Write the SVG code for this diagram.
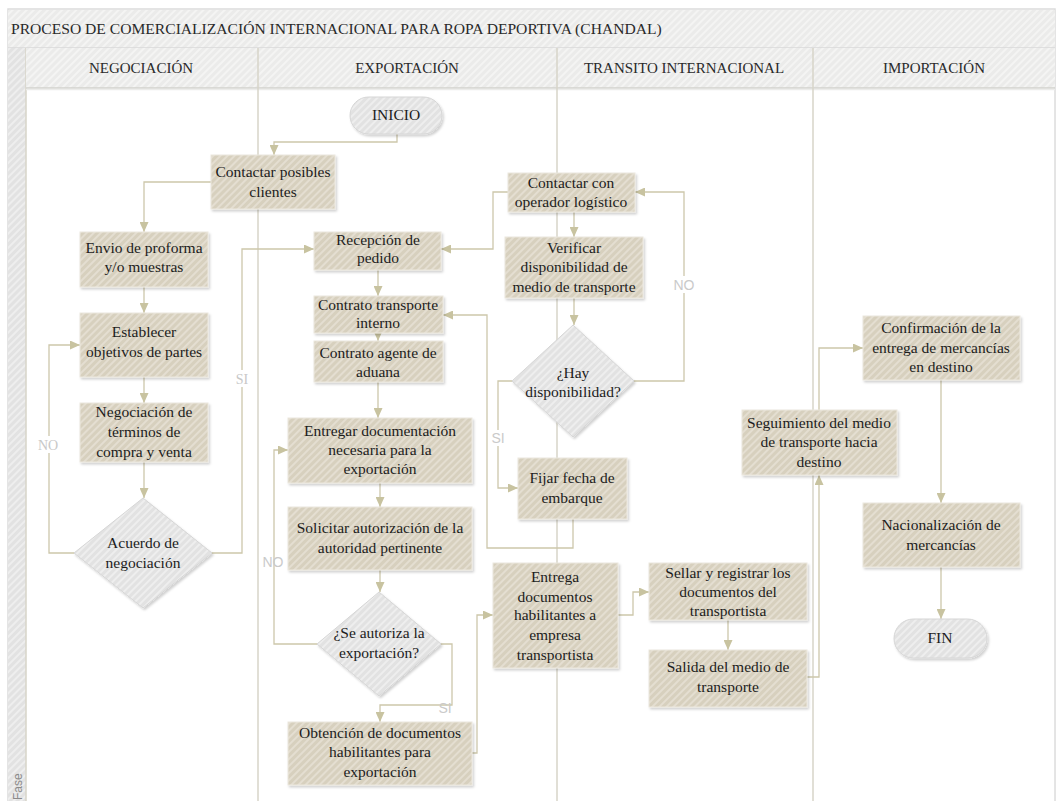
<svg xmlns="http://www.w3.org/2000/svg" width="1059" height="801" viewBox="0 0 1059 801">
<defs>
  <pattern id="hTan" width="5" height="5" patternUnits="userSpaceOnUse" patternTransform="rotate(45)">
    <rect width="5" height="5" fill="#d7d0be"/>
    <rect width="2" height="5" fill="#e4ded1"/>
  </pattern>
  <pattern id="hGrey" width="5" height="5" patternUnits="userSpaceOnUse" patternTransform="rotate(45)">
    <rect width="5" height="5" fill="#e2e2e2"/>
    <rect width="2" height="5" fill="#eeeeee"/>
  </pattern>
  <pattern id="hBand" width="5" height="5" patternUnits="userSpaceOnUse" patternTransform="rotate(45)">
    <rect width="5" height="5" fill="#ebebea"/>
    <rect width="2" height="5" fill="#f4f4f3"/>
  </pattern>
  <marker id="arr" markerUnits="userSpaceOnUse" markerWidth="10" markerHeight="9" refX="10" refY="4.5" orient="auto">
    <path d="M0,0 L10,4.5 L0,9 z" fill="#c8c3a0"/>
  </marker>
  <filter id="sh" x="-10%" y="-10%" width="125%" height="130%">
    <feDropShadow dx="1.5" dy="2" stdDeviation="1.2" flood-color="#000" flood-opacity="0.18"/>
  </filter>
</defs>
<style>
  .box{fill:url(#hTan);stroke:#ece8de;stroke-width:1;filter:url(#sh)}
  .dec{fill:url(#hGrey);stroke:#d6d6d6;stroke-width:1;filter:url(#sh)}
  .t{font-family:"Liberation Serif","Times New Roman",serif;font-size:15.5px;fill:#1c1c1c;text-anchor:middle}
  .hd{font-family:"Liberation Serif","Times New Roman",serif;font-size:15px;fill:#2a2a2a;text-anchor:middle}
  .conn{fill:none;stroke:#cdc7ab;stroke-width:1.3}
  .lane{stroke:#d7d4c9;stroke-width:1.5}
  .lbl{font-family:"Liberation Sans",Arial,sans-serif;font-size:14px;fill:#cacaca;text-anchor:middle}
  .lbls{font-family:"Liberation Serif","Times New Roman",serif;font-size:14px;fill:#c8c8c8;text-anchor:middle}
</style>
<rect x="0" y="0" width="1059" height="801" fill="#ffffff"/>

<g id="frame">
  <rect x="8" y="9" width="1047" height="795" fill="#ffffff" stroke="#dcdcdc" stroke-width="1.5"/>
  <rect x="8" y="10" width="1047" height="38" fill="url(#hBand)"/>
  <line x1="8" y1="48" x2="1055" y2="48" stroke="#d8d8d8" stroke-width="1.5"/>
  <text x="11" y="34" font-family="Liberation Serif, Times New Roman, serif" font-size="15.6" fill="#2a2a2a">PROCESO DE COMERCIALIZACIÓN INTERNACIONAL PARA ROPA DEPORTIVA (CHANDAL)</text>
  <rect x="8" y="48" width="18" height="753" fill="url(#hGrey)"/>
  <line x1="26" y1="48" x2="26" y2="801" class="lane"/>
  <rect x="26" y="48" width="1029" height="40" fill="url(#hBand)"/>
  <line x1="26" y1="88" x2="1055" y2="88" stroke="#d2d2cc" stroke-width="1.5"/>
  <line x1="26" y1="89.5" x2="1055" y2="89.5" stroke="#ececea" stroke-width="1.5"/>
  <line x1="258" y1="48" x2="258" y2="801" class="lane"/>
  <line x1="557" y1="48" x2="557" y2="801" class="lane"/>
  <line x1="813" y1="48" x2="813" y2="801" class="lane"/>
  <text class="hd" x="141" y="73">NEGOCIACIÓN</text>
  <text class="hd" x="407" y="73">EXPORTACIÓN</text>
  <text class="hd" x="684" y="73">TRANSITO INTERNACIONAL</text>
  <text class="hd" x="934" y="73">IMPORTACIÓN</text>
  <text transform="translate(22,800) rotate(-90)" font-family="Liberation Sans, Arial, sans-serif" font-size="12" fill="#8a8a8a">Fase</text>
</g>

<g id="connectors">
  <path class="conn" marker-end="url(#arr)" d="M397,134 V142 H274 V155"/>
  <path class="conn" marker-end="url(#arr)" d="M211,182 H144 V232"/>
  <path class="conn" marker-end="url(#arr)" d="M144,287 V313"/>
  <path class="conn" marker-end="url(#arr)" d="M144,377 V403"/>
  <path class="conn" marker-end="url(#arr)" d="M144,462 V498"/>
  <path class="conn" marker-end="url(#arr)" d="M74,553 H49 V345 H80"/>
  <path class="conn" marker-end="url(#arr)" d="M212,553 H242 V249 H314"/>
  <path class="conn" marker-end="url(#arr)" d="M508,192 H493 V249 H441"/>
  <path class="conn" marker-end="url(#arr)" d="M378,270 V296"/>
  <path class="conn" marker-end="url(#arr)" d="M378,333 V341"/>
  <path class="conn" marker-end="url(#arr)" d="M378,382 V418"/>
  <path class="conn" marker-end="url(#arr)" d="M380,483 V507"/>
  <path class="conn" marker-end="url(#arr)" d="M380,570 V592"/>
  <path class="conn" marker-end="url(#arr)" d="M317,644 H274 V450 H288"/>
  <path class="conn" marker-end="url(#arr)" d="M441,644 H452 V705 H380 V722"/>
  <path class="conn" marker-end="url(#arr)" d="M472,753 H477 V615 H493"/>
  <path class="conn" marker-end="url(#arr)" d="M574,212 V237"/>
  <path class="conn" marker-end="url(#arr)" d="M574,298 V325"/>
  <path class="conn" marker-end="url(#arr)" d="M634,381 H684 V192 H635"/>
  <path class="conn" marker-end="url(#arr)" d="M512,381 H498 V488 H518"/>
  <path class="conn" marker-end="url(#arr)" d="M573,519 V548 H487 V315 H443"/>
  <path class="conn" marker-end="url(#arr)" d="M618,615 H633 V592 H649"/>
  <path class="conn" marker-end="url(#arr)" d="M728,620 V650"/>
  <path class="conn" marker-end="url(#arr)" d="M807,677 H819 V475"/>
  <path class="conn" marker-end="url(#arr)" d="M819,410 V348 H863"/>
  <path class="conn" marker-end="url(#arr)" d="M941,380 V503"/>
  <path class="conn" marker-end="url(#arr)" d="M941,567 V619"/>
  <rect x="36" y="436" width="24" height="17" fill="#ffffff"/>
  <text class="lbls" x="48" y="450">NO</text>
  <rect x="233" y="370" width="18" height="17" fill="#ffffff"/>
  <text class="lbls" x="242" y="384">SI</text>
  <text class="lbl" x="273" y="567">NO</text>
  <text class="lbl" x="445" y="713" font-size="12">SI</text>
  <rect x="672" y="276" width="24" height="17" fill="#ffffff"/>
  <text class="lbl" x="684" y="290">NO</text>
  <rect x="491" y="430" width="14" height="16" fill="#ffffff"/>
  <text class="lbl" x="498" y="443" font-size="12">SI</text>
</g>

<g id="n-inicio"><rect class="dec" x="350" y="97" width="92" height="37" rx="18.5"/><text class="t" x="396" y="120">INICIO</text></g>
<g id="n-contactar-clientes"><rect class="box" x="211" y="155" width="124" height="54"/><text class="t" x="273" y="177">Contactar posibles</text><text class="t" x="273" y="197">clientes</text></g>
<g id="n-envio"><rect class="box" x="80" y="232" width="128" height="55"/><text class="t" x="144" y="253">Envio de proforma</text><text class="t" x="144" y="272">y/o muestras</text></g>
<g id="n-establecer"><rect class="box" x="80" y="313" width="128" height="64"/><text class="t" x="144" y="337">Establecer</text><text class="t" x="144" y="357">objetivos de partes</text></g>
<g id="n-negociacion"><rect class="box" x="80" y="403" width="128" height="59"/><text class="t" x="144" y="417">Negociación de</text><text class="t" x="144" y="437">términos de</text><text class="t" x="144" y="457">compra y venta</text></g>
<g id="n-acuerdo"><polygon class="dec" points="143,498 212,553 143,608 74,553"/><text class="t" x="143" y="548">Acuerdo de</text><text class="t" x="143" y="568">negociación</text></g>
<g id="n-recepcion"><rect class="box" x="314" y="232" width="127" height="38"/><text class="t" x="378" y="245">Recepción de</text><text class="t" x="378" y="263">pedido</text></g>
<g id="n-contrato-transporte"><rect class="box" x="314" y="296" width="129" height="37"/><text class="t" x="378" y="310">Contrato transporte</text><text class="t" x="378" y="328">interno</text></g>
<g id="n-contrato-agente"><rect class="box" x="314" y="341" width="129" height="41"/><text class="t" x="378" y="358">Contrato agente de</text><text class="t" x="378" y="377">aduana</text></g>
<g id="n-entregar"><rect class="box" x="288" y="418" width="184" height="65"/><text class="t" x="380" y="436">Entregar documentación</text><text class="t" x="380" y="455">necesaria para la</text><text class="t" x="380" y="474">exportación</text></g>
<g id="n-solicitar"><rect class="box" x="288" y="507" width="184" height="63"/><text class="t" x="380" y="533">Solicitar autorización de la</text><text class="t" x="380" y="553">autoridad pertinente</text></g>
<g id="n-autoriza"><polygon class="dec" points="379,592 441,644 379,696 317,644"/><text class="t" x="379" y="638">¿Se autoriza la</text><text class="t" x="379" y="658">exportación?</text></g>
<g id="n-obtencion"><rect class="box" x="288" y="722" width="184" height="63"/><text class="t" x="380" y="738">Obtención de documentos</text><text class="t" x="380" y="757">habilitantes para</text><text class="t" x="380" y="777">exportación</text></g>
<g id="n-contactar-operador"><rect class="box" x="508" y="173" width="127" height="39"/><text class="t" x="571" y="188">Contactar con</text><text class="t" x="571" y="207">operador logístico</text></g>
<g id="n-verificar"><rect class="box" x="505" y="237" width="138" height="61"/><text class="t" x="574" y="253">Verificar</text><text class="t" x="574" y="272">disponibilidad de</text><text class="t" x="574" y="292">medio de transporte</text></g>
<g id="n-hay"><polygon class="dec" points="573,325 634,381 573,437 512,381"/><text class="t" x="573" y="378">¿Hay</text><text class="t" x="573" y="397">disponibilidad?</text></g>
<g id="n-fijar"><rect class="box" x="518" y="458" width="109" height="61"/><text class="t" x="572" y="483">Fijar fecha de</text><text class="t" x="572" y="503">embarque</text></g>
<g id="n-entrega-docs"><rect class="box" x="493" y="563" width="125" height="105"/><text class="t" x="555" y="582">Entrega</text><text class="t" x="555" y="602">documentos</text><text class="t" x="555" y="620">habilitantes a</text><text class="t" x="555" y="640">empresa</text><text class="t" x="555" y="660">transportista</text></g>
<g id="n-sellar"><rect class="box" x="649" y="563" width="158" height="57"/><text class="t" x="728" y="578">Sellar y registrar los</text><text class="t" x="728" y="597">documentos del</text><text class="t" x="728" y="616">transportista</text></g>
<g id="n-salida"><rect class="box" x="649" y="650" width="158" height="57"/><text class="t" x="728" y="672">Salida del medio de</text><text class="t" x="728" y="692">transporte</text></g>
<g id="n-seguimiento"><rect class="box" x="742" y="410" width="155" height="65"/><text class="t" x="819" y="428">Seguimiento del medio</text><text class="t" x="819" y="447">de transporte hacia</text><text class="t" x="819" y="467">destino</text></g>
<g id="n-confirmacion"><rect class="box" x="863" y="316" width="157" height="64"/><text class="t" x="941" y="333">Confirmación de la</text><text class="t" x="941" y="353">entrega de mercancías</text><text class="t" x="941" y="372">en destino</text></g>
<g id="n-nacionalizacion"><rect class="box" x="863" y="503" width="157" height="64"/><text class="t" x="941" y="530">Nacionalización de</text><text class="t" x="941" y="550">mercancías</text></g>
<g id="n-fin"><rect class="dec" x="894" y="619" width="93" height="39" rx="19.5"/><text class="t" x="940" y="643">FIN</text></g>
</svg>
